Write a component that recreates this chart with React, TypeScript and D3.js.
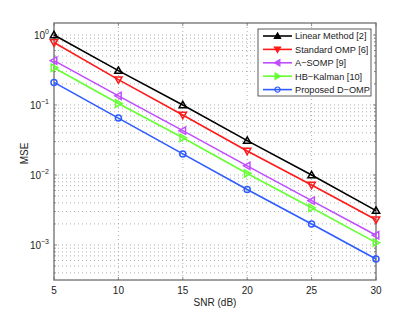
import React, { useEffect, useRef } from 'react';
import * as d3 from 'd3';

const snr = [5, 10, 15, 20, 25, 30];
const xTicks = [5, 10, 15, 20, 25, 30];
const yDecades = [-3, -2, -1, 0];

const linearMethod = [1.0, 0.31, 0.1, 0.031, 0.01, 0.0031];
const standardOmp = [0.78, 0.23, 0.072, 0.022, 0.0072, 0.0023];
const aSomp = [0.43, 0.135, 0.043, 0.0135, 0.0043, 0.00138];
const hbKalman = [0.34, 0.105, 0.034, 0.0105, 0.0034, 0.00108];
const proposed = [0.21, 0.065, 0.02, 0.0062, 0.002, 0.00063];

const seriesNames = ['Linear Method [2]', 'Standard OMP [6]', 'A\u2212SOMP [9]', 'HB\u2212Kalman [10]', 'Proposed D\u2212OMP'];
const seriesValues = [linearMethod, standardOmp, aSomp, hbKalman, proposed];
const seriesColors = ['#000000', '#ff1a1a', '#bf4dff', '#66ff33', '#2e5cff'];
const seriesMarkers = ['up', 'down', 'left', 'right', 'circle'];

const W = 415, H = 316;
const M = { left: 54, right: 376, top: 23, bottom: 280 };

function markerPath(kind: string, r: number) {
  const a = r * 1.05;
  if (kind === 'up') return `M0,${-a}L${a},${a * 0.75}L${-a},${a * 0.75}Z`;
  if (kind === 'down') return `M0,${a}L${a},${-a * 0.75}L${-a},${-a * 0.75}Z`;
  if (kind === 'left') return `M${-a},0L${a * 0.75},${-a}L${a * 0.75},${a}Z`;
  if (kind === 'right') return `M${a},0L${-a * 0.75},${-a}L${-a * 0.75},${a}Z`;
  return d3.symbol(d3.symbolCircle, Math.PI * r * r * 0.75)() as string;
}

const App: React.FC = () => {
  const svgRef = useRef<SVGSVGElement>(null);

  useEffect(() => {
    if (!svgRef.current) return;
    const svg = d3.select(svgRef.current);
    svg.selectAll('*').remove();

    const x = d3.scaleLinear().domain([5, 30]).range([M.left, M.right]);
    const y = d3.scaleLog().domain([Math.pow(10, -3.5), Math.pow(10, 0.171)]).range([M.bottom, M.top]);

    const font = 'Liberation Sans, Arial, Helvetica, sans-serif';
    const gridColor = '#9a9a9a';
    const axisColor = '#6e6e6e';

    svg.append('rect').attr('x', 0).attr('y', 0).attr('width', W).attr('height', H).attr('fill', '#fff');

    const grid = svg.append('g').attr('stroke', gridColor).attr('stroke-width', 0.8).attr('stroke-dasharray', '1,3');
    xTicks.slice(1, -1).forEach(t => {
      grid.append('line').attr('x1', x(t)).attr('x2', x(t)).attr('y1', M.top).attr('y2', M.bottom);
    });

    // minor + major log grid
    const yTickVals: number[] = [];
    for (let e = -4; e <= 0; e++) {
      for (let m = 1; m <= 9; m++) {
        const v = m * Math.pow(10, e);
        const py = y(v);
        if (py <= M.bottom - 0.5 && py >= M.top + 0.5) yTickVals.push(v);
      }
    }
    yTickVals.forEach(v => {
      grid.append('line').attr('x1', M.left).attr('x2', M.right).attr('y1', y(v)).attr('y2', y(v));
    });

    // ticks
    const ticks = svg.append('g').attr('stroke', axisColor).attr('stroke-width', 0.8);
    xTicks.forEach(t => {
      ticks.append('line').attr('x1', x(t)).attr('x2', x(t)).attr('y1', M.bottom).attr('y2', M.bottom - 3);
      ticks.append('line').attr('x1', x(t)).attr('x2', x(t)).attr('y1', M.top).attr('y2', M.top + 3);
    });
    yTickVals.forEach(v => {
      const major = Math.abs(Math.log10(v) - Math.round(Math.log10(v))) < 1e-6;
      const len = major ? 3 : 1.8;
      ticks.append('line').attr('x1', M.left).attr('x2', M.left + len).attr('y1', y(v)).attr('y2', y(v));
      ticks.append('line').attr('x1', M.right).attr('x2', M.right - len).attr('y1', y(v)).attr('y2', y(v));
    });

    svg.append('rect').attr('x', M.left).attr('y', M.top).attr('width', M.right - M.left).attr('height', M.bottom - M.top)
      .attr('fill', 'none').attr('stroke', axisColor).attr('stroke-width', 1.3);

    // x tick labels
    xTicks.forEach(t => {
      svg.append('text').attr('x', x(t)).attr('y', 294).attr('text-anchor', 'middle')
        .attr('font-family', font).attr('font-size', 10).attr('fill', '#222').text(String(t));
    });

    // y tick labels 10^n
    yDecades.forEach(e => {
      const t = svg.append('text').attr('x', 49).attr('y', y(Math.pow(10, e)) + 4).attr('text-anchor', 'end')
        .attr('font-family', font).attr('font-size', 10).attr('fill', '#222');
      t.append('tspan').text('10');
      t.append('tspan').attr('dy', -5).attr('font-size', 7).text(e === 0 ? '0' : '\u2212' + Math.abs(e));
    });

    svg.append('text').attr('x', 215).attr('y', 306).attr('text-anchor', 'middle')
      .attr('font-family', font).attr('font-size', 10).attr('fill', '#222').text('SNR (dB)');
    svg.append('text').attr('transform', `translate(28,${(M.top + M.bottom) / 2 + 2}) rotate(-90)`).attr('text-anchor', 'middle')
      .attr('font-family', font).attr('font-size', 10).attr('fill', '#222').text('MSE');

    // series
    const line = d3.line<number>().x((_, i) => x(snr[i])).y(d => y(d));
    seriesValues.forEach((vals, si) => {
      const g = svg.append('g');
      g.append('path').attr('d', line(vals) as string).attr('fill', 'none')
        .attr('stroke', seriesColors[si]).attr('stroke-width', 1.6);
      vals.forEach((v, i) => {
        g.append('path').attr('d', markerPath(seriesMarkers[si], 3.5))
          .attr('transform', `translate(${x(snr[i])},${y(v)})`)
          .attr('fill', 'none').attr('stroke', seriesColors[si]).attr('stroke-width', 1.5);
      });
    });

    // legend
    const lg = svg.append('g');
    lg.append('rect').attr('x', 258).attr('y', 29).attr('width', 113).attr('height', 67)
      .attr('fill', '#fff').attr('stroke', '#333').attr('stroke-width', 0.8);
    seriesNames.forEach((name, i) => {
      const cy = 36 + i * 13.4;
      lg.append('line').attr('x1', 263).attr('x2', 292).attr('y1', cy).attr('y2', cy)
        .attr('stroke', seriesColors[i]).attr('stroke-width', 1.6);
      lg.append('path').attr('d', markerPath(seriesMarkers[i], 3))
        .attr('transform', `translate(277.5,${cy})`)
        .attr('fill', seriesMarkers[i] === 'circle' ? 'none' : seriesColors[i])
        .attr('stroke', seriesColors[i]).attr('stroke-width', 1.2);
      lg.append('text').attr('x', 295).attr('y', cy + 3.4).attr('font-family', font).attr('font-size', 9.2)
        .attr('fill', '#222').text(name);
    });
  }, []);

  return (
    <div style={{ position: 'absolute', left: 0, top: 0, width: W, height: H, background: '#fff' }}>
      <svg ref={svgRef} width={W} height={H} style={{ display: 'block' }} />
    </div>
  );
};

export default App;
